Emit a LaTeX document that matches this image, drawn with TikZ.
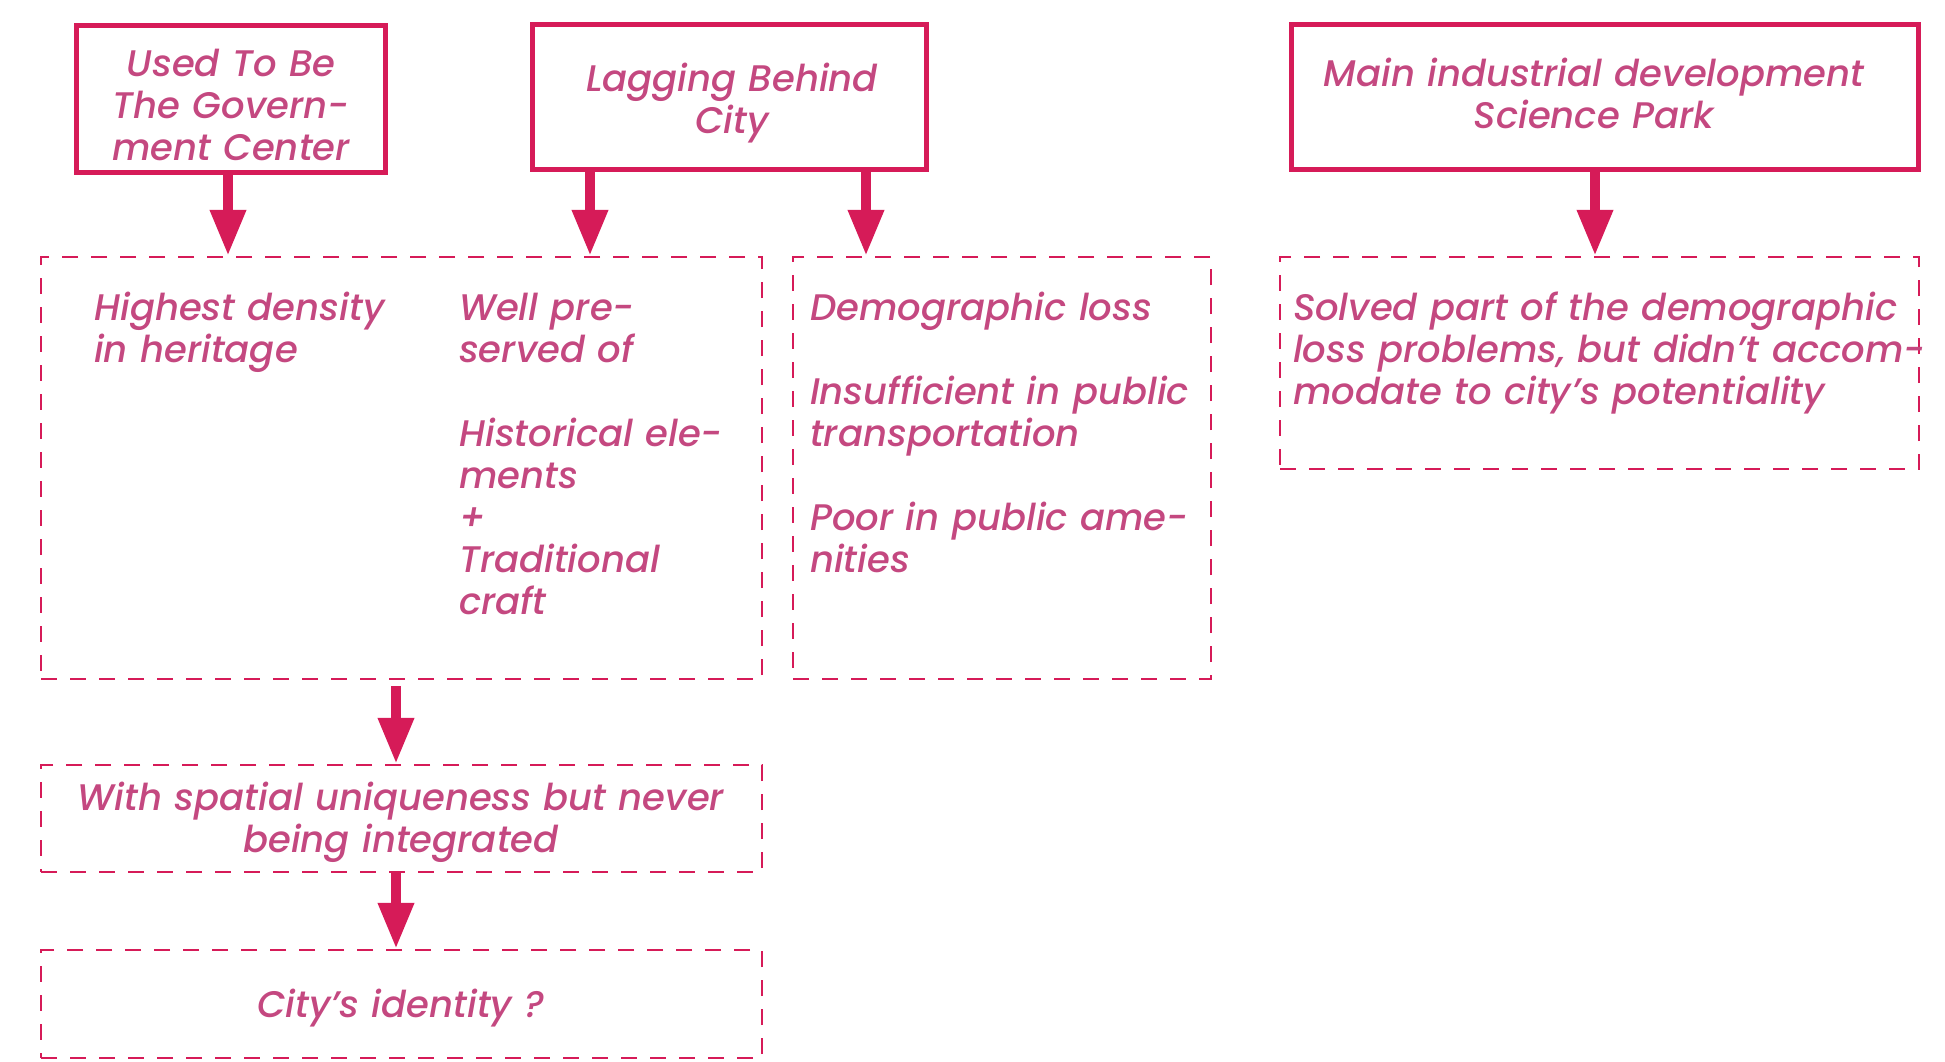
\documentclass[tikz,border=0pt]{standalone}
\usepackage{fontspec}
\setmainfont{Poppins}[ItalicFont={Poppins Medium Italic}]
\usetikzlibrary{arrows.meta}
\definecolor{mainred}{RGB}{214,27,88}
\definecolor{txt}{RGB}{196,72,128}
\begin{document}
\begin{tikzpicture}[x=1pt,y=-1pt,
  solidbox/.style={draw=mainred,line width=5pt,inner sep=0pt},
  dbox/.style={draw=mainred,line width=2.5pt,dash pattern=on 16pt off 13pt,inner sep=0pt},
  arr/.style={draw=mainred,line width=10pt,-{Triangle[width=34pt,length=46pt]}},
  lbl/.style={text=txt,font=\fontsize{37}{42}\selectfont\itshape,inner sep=0pt},
  ltxt/.style={lbl,align=left,anchor=base west},
  ctxt/.style={lbl,align=center,anchor=base}]
\useasboundingbox (0,0) rectangle (1945,1062);
% top boxes
\node[solidbox,minimum width=309pt,minimum height=147pt] (box1) at (231,99) {};
\node[solidbox,minimum width=394pt,minimum height=144pt] (box2) at (729,97) {};
\node[solidbox,minimum width=627pt,minimum height=144pt] (box3) at (1604.5,97) {};
% dashed boxes
\node[dbox,minimum width=721pt,minimum height=422pt] (A) at (401.5,468) {};
\node[dbox,minimum width=418pt,minimum height=422pt] (B) at (1002,468) {};
\node[dbox,minimum width=639pt,minimum height=212pt] (C) at (1599.5,363) {};
\node[dbox,minimum width=721pt,minimum height=107pt] (D) at (401.5,818.5) {};
\node[dbox,minimum width=721pt,minimum height=108pt] (E) at (401.5,1004) {};
% texts
\node[ctxt,text width=300pt] (t1) at (231,77) {Used To Be\\The Govern-\\ment Center};
\node[ctxt,text width=390pt] (t2) at (732,92) {Lagging Behind\\City};
\node[ctxt,text width=620pt] (t3) at (1594,87) {Main industrial development\\Science Park};
\node[ltxt,text width=300pt] (ta1) at (94,320) {Highest density\\in heritage};
\node[ltxt,text width=300pt] (ta2) at (459,320) {Well pre-\\served of\\[42pt]Historical ele-\\ments\\+\\Traditional\\craft};
\node[ltxt,text width=400pt] (tb) at (810,320) {Demographic loss\\[42pt]Insufficient in public\\transportation\\[42pt]Poor in public ame-\\nities};
\node[ltxt,text width=800pt] (tc) at (1293,320) {Solved part of the demographic\\loss problems, but didn’t accom-\\modate to city’s potentiality};
\node[ctxt,text width=700pt] (td) at (401,810) {With spatial uniqueness but never\\being integrated};
\node[ctxt,text width=700pt] (te) at (401,1017) {City’s identity ?};
% arrows
\coordinate (x228) at (228,0);
\coordinate (x590) at (590,0);
\coordinate (x866) at (866,0);
\coordinate (x1595) at (1595,0);
\coordinate (x396) at (396,0);
\draw[arr] (box1.south -| x228) -- (A.north -| x228);
\draw[arr] (box2.south -| x590) -- (A.north -| x590);
\draw[arr] (box2.south -| x866) -- (B.north -| x866);
\draw[arr] (box3.south -| x1595) -- (C.north -| x1595);
\draw[arr,shorten <=6pt] (A.south -| x396) -- (D.north -| x396);
\draw[arr] (D.south -| x396) -- (E.north -| x396);
\end{tikzpicture}
\end{document}
